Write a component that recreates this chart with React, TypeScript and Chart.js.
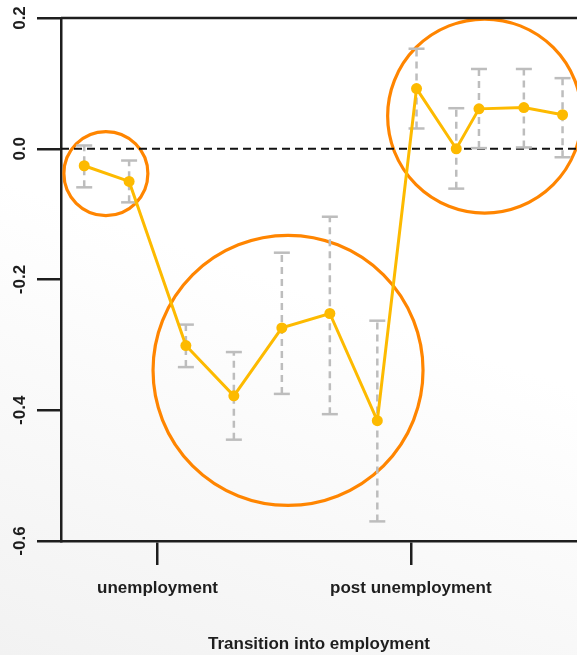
import React, { useEffect, useRef } from "react";
import { Chart, registerables } from "chart.js";

Chart.register(...registerables);

// Horizontal positions of the estimates along the transition timeline
const POINT_X = [4.5, 13.2, 24.2, 33.5, 42.8, 52.1, 61.3, 68.9, 76.6, 81.0, 89.7, 97.2];
// Point estimates
const ESTIMATE = [-0.026, -0.05, -0.301, -0.378, -0.274, -0.252, -0.416, 0.092, 0.0, 0.061, 0.063, 0.052];
// Confidence interval bounds
const CI_LOW = [-0.059, -0.082, -0.334, -0.445, -0.375, -0.406, -0.57, 0.031, -0.061, 0.001, 0.002, -0.013];
const CI_HIGH = [0.005, -0.018, -0.269, -0.311, -0.159, -0.104, -0.263, 0.153, 0.062, 0.122, 0.122, 0.108];

// Phase markers on the horizontal axis
const PHASE_POS = [18.7, 67.8];
const PHASE_LABELS = ["unemployment", "post unemployment"];

// Vertical axis ticks
const Y_TICKS = [-0.6, -0.4, -0.2, 0.0, 0.2];

// Highlight rings: centre (x, y) and radius in px
const RING_X = [8.7, 44.0, 82.1];
const RING_Y = [-0.038, -0.339, 0.05];
const RING_R = [42, 135, 97];

const FONT = '"Liberation Sans", Arial, Helvetica, sans-serif';
const INK = "#1e1e1e";

export default function App() {
  const canvasRef = useRef<HTMLCanvasElement | null>(null);

  useEffect(() => {
    const canvas = canvasRef.current;
    if (!canvas) return;

    const points = POINT_X.map((x, i) => ({ x, y: ESTIMATE[i] }));

    // whiskers: low -> high, separated by a gap
    const whiskers: { x: number; y: number | null }[] = [];
    POINT_X.forEach((x, i) => {
      whiskers.push({ x, y: CI_LOW[i] });
      whiskers.push({ x, y: CI_HIGH[i] });
      whiskers.push({ x, y: null });
    });

    const rings = RING_X.map((x, i) => ({ x, y: RING_Y[i], r: RING_R[i] }));

    const frameAndLabels = {
      id: "frameAndLabels",
      afterDraw(chart: any) {
        const { ctx, chartArea, scales } = chart;
        ctx.save();
        // top frame line
        ctx.strokeStyle = INK;
        ctx.lineWidth = 2.5;
        ctx.beginPath();
        ctx.moveTo(chartArea.left, chartArea.top);
        ctx.lineTo(chartArea.right, chartArea.top);
        ctx.stroke();
        // rotated y tick labels
        ctx.fillStyle = INK;
        ctx.font = `bold 17px ${FONT}`;
        ctx.textAlign = "center";
        ctx.textBaseline = "middle";
        Y_TICKS.forEach((v) => {
          const py = scales.y.getPixelForValue(v);
          ctx.save();
          ctx.translate(20, py);
          ctx.rotate(-Math.PI / 2);
          ctx.fillText(v.toFixed(1), 0, 0);
          ctx.restore();
        });
        ctx.restore();
      },
    };

    const chart = new Chart(canvas, {
      type: "line",
      data: {
        datasets: [
          {
            type: "line",
            data: points,
            borderColor: "#FDBA00",
            backgroundColor: "#FDBA00",
            borderWidth: 3,
            pointRadius: 5.5,
            pointBorderWidth: 0,
            pointBackgroundColor: "#FDBA00",
            tension: 0,
            order: 0,
          },
          {
            type: "line",
            data: whiskers,
            spanGaps: false,
            borderColor: "#BDBDBD",
            borderWidth: 2.5,
            borderDash: [7, 5],
            pointStyle: "line",
            pointRadius: 8,
            pointBorderWidth: 2.5,
            pointBorderColor: "#BDBDBD",
            pointBackgroundColor: "#BDBDBD",
            order: 1,
          },
          {
            type: "line",
            data: [
              { x: 0, y: 0 },
              { x: 100, y: 0 },
            ],
            borderColor: "#111111",
            borderWidth: 2,
            borderDash: [8, 5],
            pointRadius: 0,
            order: 2,
          },
          {
            type: "bubble",
            data: rings,
            backgroundColor: "rgba(0,0,0,0)",
            borderColor: "#FF8500",
            borderWidth: 3.2,
            clip: false,
            order: 3,
          } as any,
        ],
      },
      options: {
        responsive: true,
        maintainAspectRatio: false,
        animation: false,
        events: [],
        layout: { autoPadding: false, padding: { top: 18, right: 0, left: 0, bottom: 0 } },
        plugins: {
          legend: { display: false },
          tooltip: { enabled: false },
        },
        scales: {
          x: {
            type: "linear",
            min: 0,
            max: 100,
            afterFit: (s: any) => {
              s.height = 114;
            },
            afterBuildTicks: (s: any) => {
              s.ticks = PHASE_POS.map((v) => ({ value: v }));
            },
            ticks: {
              autoSkip: false,
              maxRotation: 0,
              minRotation: 0,
              padding: 13,
              color: INK,
              font: { family: FONT, size: 17, weight: "bold" },
              callback: (_v: any, i: number) => PHASE_LABELS[i],
            },
            grid: {
              drawOnChartArea: false,
              drawTicks: true,
              tickLength: 24,
              color: INK,
              lineWidth: 2.5,
            },
            border: { display: true, color: INK, width: 2.5 },
            title: {
              display: true,
              text: "Transition into employment",
              color: INK,
              font: { family: FONT, size: 17, weight: "bold" },
              padding: { top: 0, bottom: 0 },
            },
          },
          y: {
            type: "linear",
            min: -0.6,
            max: 0.2,
            afterFit: (s: any) => {
              s.width = 61;
            },
            afterBuildTicks: (s: any) => {
              s.ticks = Y_TICKS.map((v) => ({ value: v }));
            },
            ticks: { display: false },
            grid: {
              drawOnChartArea: false,
              drawTicks: true,
              tickLength: 24,
              color: INK,
              lineWidth: 2.5,
            },
            border: { display: true, color: INK, width: 2.5 },
          },
        },
      } as any,
      plugins: [frameAndLabels],
    });

    return () => chart.destroy();
  }, []);

  return (
    <div
      style={{
        position: "fixed",
        left: 0,
        top: 0,
        width: 577,
        height: 655,
        background: "linear-gradient(200deg, #ffffff 45%, #f2f2f2 100%)",
      }}
    >
      <canvas ref={canvasRef} />
    </div>
  );
}
